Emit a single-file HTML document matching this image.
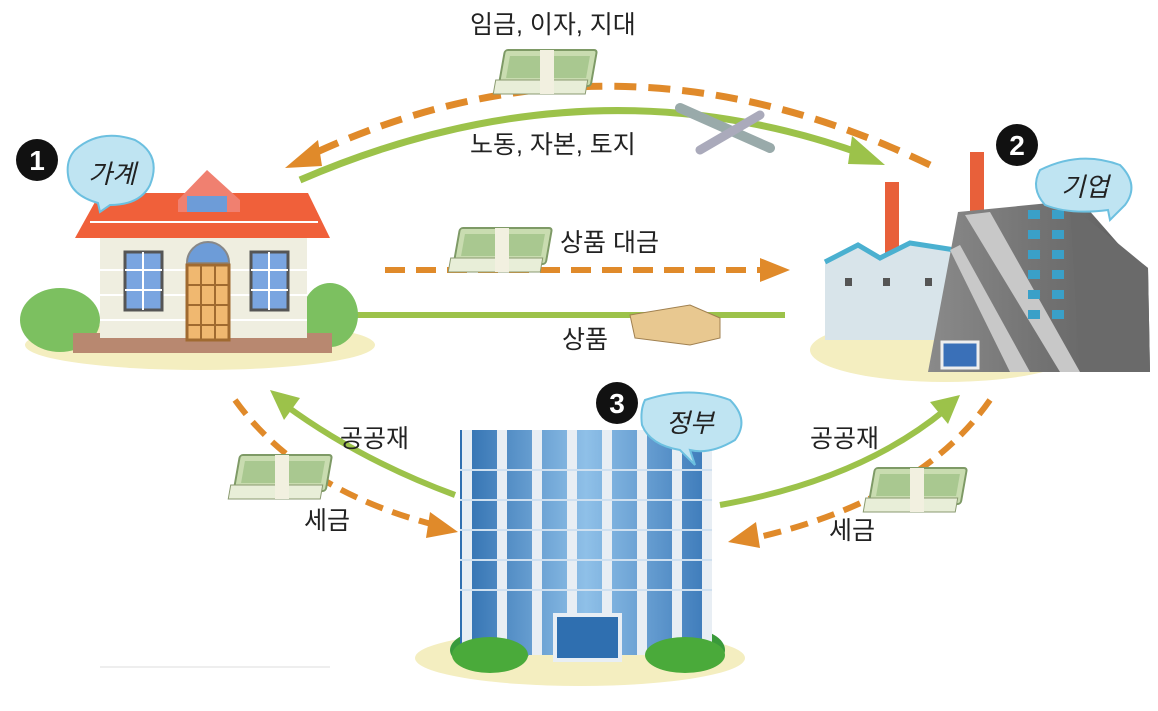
<!DOCTYPE html>
<html><head><meta charset="utf-8"><style>
html,body{margin:0;padding:0;background:#fff}
svg{display:block}
text{font-family:"Liberation Sans","Noto Sans CJK KR",sans-serif;fill:#222}
</style></head><body>
<svg width="1158" height="711" viewBox="0 0 1158 711" xmlns="http://www.w3.org/2000/svg">
<defs>
<linearGradient id="gl" x1="0" y1="0" x2="1" y2="0"><stop offset="0" stop-color="#2f6fb0"/><stop offset="0.5" stop-color="#8fc0e8"/><stop offset="1" stop-color="#3a78b8"/></linearGradient>
<linearGradient id="gm" x1="0" y1="0" x2="1" y2="0"><stop offset="0" stop-color="#8a8a8a"/><stop offset="1" stop-color="#5c5c5c"/></linearGradient>
<g id="money"><rect x="0" y="0" width="92" height="36" rx="3" fill="#c9dcb0" stroke="#7e9a66" stroke-width="2" transform="skewX(-10)"/><rect x="6" y="6" width="80" height="22" fill="#a9c890" transform="skewX(-10)"/><rect x="-4" y="30" width="92" height="14" fill="#e8eed8" stroke="#8a9a70" transform="skewX(-10)"/><rect x="35" y="0" width="14" height="44" fill="#f2f0e0"/></g>
</defs>
<ellipse cx="200" cy="345" rx="175" ry="25" fill="#f4eec0"/>
<ellipse cx="945" cy="350" rx="135" ry="32" fill="#f4eec0"/>
<ellipse cx="580" cy="658" rx="165" ry="28" fill="#f4eec0"/>
<line x1="100" y1="667" x2="330" y2="667" stroke="#ddd" stroke-width="1"/>

<path d="M930,165 Q610,10 300,160" fill="none" stroke="#e08a2a" stroke-width="7" stroke-dasharray="22,12"/>
<polygon points="285,168 318,140 322,166" fill="#e08a2a"/>
<path d="M300,180 Q590,55 865,155" fill="none" stroke="#9cc24a" stroke-width="7"/>
<polygon points="885,165 852,136 848,164" fill="#9cc24a"/>
<line x1="385" y1="270" x2="765" y2="270" stroke="#e08a2a" stroke-width="6" stroke-dasharray="20,11"/>
<polygon points="790,270 760,258 760,282" fill="#e08a2a"/>
<line x1="785" y1="315" x2="325" y2="315" stroke="#9cc24a" stroke-width="6"/>
<polygon points="298,315 328,302 328,328" fill="#9cc24a"/>
<path d="M455,495 Q360,460 285,405" fill="none" stroke="#9cc24a" stroke-width="6"/>
<polygon points="270,390 300,398 284,420" fill="#9cc24a"/>
<path d="M235,400 Q300,490 435,525" fill="none" stroke="#e08a2a" stroke-width="6" stroke-dasharray="18,10"/>
<polygon points="458,532 430,512 426,538" fill="#e08a2a"/>
<path d="M720,505 Q860,480 945,410" fill="none" stroke="#9cc24a" stroke-width="6"/>
<polygon points="960,395 930,402 948,424" fill="#9cc24a"/>
<path d="M990,400 Q920,500 755,538" fill="none" stroke="#e08a2a" stroke-width="6" stroke-dasharray="18,10"/>
<polygon points="728,542 756,522 760,548" fill="#e08a2a"/>

<g>
<ellipse cx="60" cy="320" rx="40" ry="32" fill="#7cc060"/>
<ellipse cx="330" cy="315" rx="28" ry="32" fill="#7cc060"/>
<rect x="73" y="333" width="259" height="20" fill="#b88870"/>
<rect x="100" y="238" width="207" height="100" fill="#efeee0"/>
<line x1="100" y1="270" x2="307" y2="270" stroke="#fff" stroke-width="2"/><line x1="100" y1="295" x2="307" y2="295" stroke="#fff" stroke-width="2"/><line x1="100" y1="320" x2="307" y2="320" stroke="#fff" stroke-width="2"/>
<polygon points="100,193 308,193 330,238 75,238" fill="#f0603a"/>
<line x1="90" y1="222" x2="318" y2="222" stroke="#fff" stroke-width="2"/>
<polygon points="207,170 178,200 178,212 240,212 240,200" fill="#f08070"/>
<rect x="187" y="196" width="40" height="16" fill="#6d9cd8"/>
<rect x="125" y="252" width="37" height="58" fill="#7aa5e0" stroke="#555" stroke-width="3"/>
<line x1="143" y1="252" x2="143" y2="310" stroke="#fff" stroke-width="2"/><line x1="125" y1="270" x2="162" y2="270" stroke="#fff" stroke-width="2"/><line x1="125" y1="290" x2="162" y2="290" stroke="#fff" stroke-width="2"/>
<rect x="251" y="252" width="37" height="58" fill="#7aa5e0" stroke="#555" stroke-width="3"/>
<line x1="269" y1="252" x2="269" y2="310" stroke="#fff" stroke-width="2"/><line x1="251" y1="270" x2="288" y2="270" stroke="#fff" stroke-width="2"/><line x1="251" y1="290" x2="288" y2="290" stroke="#fff" stroke-width="2"/>
<path d="M187,263 A21,21 0 0 1 229,263 Z" fill="#6d9cd8" stroke="#888" stroke-width="2"/>
<rect x="187" y="265" width="42" height="75" fill="#f0b870" stroke="#a06a30" stroke-width="3"/>
<line x1="201" y1="265" x2="201" y2="340" stroke="#a06a30" stroke-width="2"/><line x1="215" y1="265" x2="215" y2="340" stroke="#a06a30" stroke-width="2"/>
<line x1="187" y1="285" x2="229" y2="285" stroke="#a06a30" stroke-width="2"/><line x1="187" y1="305" x2="229" y2="305" stroke="#a06a30" stroke-width="2"/><line x1="187" y1="325" x2="229" y2="325" stroke="#a06a30" stroke-width="2"/>
</g>

<g>
<rect x="885" y="182" width="14" height="72" fill="#e8603a"/>
<rect x="970" y="152" width="14" height="60" fill="#e8603a"/>
<polygon points="825,262 858,245 880,258 910,243 955,250 955,340 825,340" fill="#d8e4ea"/>
<polyline points="825,262 858,245 880,258 910,243 955,250" fill="none" stroke="#4ab0d0" stroke-width="5"/>
<rect x="845" y="278" width="7" height="8" fill="#555"/><rect x="883" y="278" width="7" height="8" fill="#555"/><rect x="925" y="278" width="7" height="8" fill="#555"/>
<polygon points="958,212 1080,200 1122,248 1148,268 1150,372 928,372" fill="url(#gm)"/>
<polygon points="1070,205 1120,245 1148,268 1150,372 1080,372" fill="#6a6a6a"/>
<polygon points="965,215 990,212 1080,372 1060,372" fill="#c8c8c8"/>
<polygon points="950,250 960,245 1030,372 1010,372" fill="#c8c8c8"/>
<g fill="#3aa0c8"><rect x="1028" y="210" width="12" height="9"/><rect x="1052" y="210" width="12" height="9"/><rect x="1028" y="230" width="12" height="9"/><rect x="1052" y="230" width="12" height="9"/><rect x="1028" y="250" width="12" height="9"/><rect x="1052" y="250" width="12" height="9"/><rect x="1028" y="270" width="12" height="9"/><rect x="1052" y="270" width="12" height="9"/><rect x="1028" y="290" width="12" height="9"/><rect x="1052" y="290" width="12" height="9"/><rect x="1028" y="310" width="12" height="9"/><rect x="1052" y="310" width="12" height="9"/></g>
<rect x="942" y="342" width="36" height="26" fill="#3a70b8" stroke="#eee" stroke-width="3"/>
</g>

<g>
<ellipse cx="490" cy="650" rx="40" ry="20" fill="#3a9a3a"/>
<ellipse cx="685" cy="650" rx="40" ry="22" fill="#3a9a3a"/>
<rect x="460" y="430" width="252" height="225" fill="url(#gl)"/>
<g fill="#e8eef4"><rect x="462" y="430" width="10" height="225"/><rect x="497" y="430" width="10" height="225"/><rect x="532" y="430" width="10" height="225"/><rect x="567" y="430" width="10" height="225"/><rect x="602" y="430" width="10" height="225"/><rect x="637" y="430" width="10" height="225"/><rect x="672" y="430" width="10" height="225"/><rect x="702" y="430" width="10" height="225"/></g>
<g stroke="#cfe0f0" stroke-width="2"><line x1="460" y1="470" x2="712" y2="470"/><line x1="460" y1="500" x2="712" y2="500"/><line x1="460" y1="530" x2="712" y2="530"/><line x1="460" y1="560" x2="712" y2="560"/><line x1="460" y1="590" x2="712" y2="590"/></g>
<rect x="555" y="615" width="65" height="45" fill="#2f6fb0" stroke="#e8eef4" stroke-width="4"/>
<ellipse cx="490" cy="655" rx="38" ry="18" fill="#4aaa3a"/>
<ellipse cx="685" cy="655" rx="40" ry="18" fill="#4aaa3a"/>
</g>

<use href="#money" x="505" y="50"/>
<use href="#money" x="460" y="228"/>
<use href="#money" x="240" y="455"/>
<use href="#money" x="875" y="468"/>
<polygon points="630,315 690,305 720,318 720,338 690,345 635,338" fill="#e8c890" stroke="#a08050"/>
<path d="M680,108 L770,148" stroke="#9aa" stroke-width="10" stroke-linecap="round"/>
<path d="M700,150 L760,115" stroke="#aab" stroke-width="9" stroke-linecap="round"/>

<g>
<path d="M75,150 Q100,128 135,140 Q162,155 150,185 Q140,205 110,205 L100,212 L98,203 Q70,195 68,175 Q66,160 75,150Z" fill="#bfe4f2" stroke="#6cc0e0" stroke-width="2"/>
<text x="112" y="183" font-size="26" text-anchor="middle" font-style="italic">가계</text>
<circle cx="37" cy="160" r="21" fill="#111"/><text x="37" y="170" font-size="28" font-weight="bold" text-anchor="middle" style="fill:#fff">1</text>
<path d="M1040,170 Q1080,150 1120,165 Q1140,185 1125,205 L1110,220 L1108,210 Q1070,215 1045,205 Q1030,188 1040,170Z" fill="#bfe4f2" stroke="#6cc0e0" stroke-width="2"/>
<text x="1085" y="196" font-size="26" text-anchor="middle" font-style="italic">기업</text>
<circle cx="1017" cy="145" r="21" fill="#111"/><text x="1017" y="155" font-size="28" font-weight="bold" text-anchor="middle" style="fill:#fff">2</text>
<path d="M645,400 Q690,385 730,400 Q750,420 735,440 Q710,455 690,450 L695,465 L680,450 Q650,445 642,425 Q640,410 645,400Z" fill="#bfe4f2" stroke="#6cc0e0" stroke-width="2"/>
<text x="690" y="432" font-size="26" text-anchor="middle" font-style="italic">정부</text>
<circle cx="617" cy="403" r="21" fill="#111"/><text x="617" y="413" font-size="28" font-weight="bold" text-anchor="middle" style="fill:#fff">3</text>
</g>

<g font-size="25">
<text x="470" y="33">임금, 이자, 지대</text>
<text x="470" y="153">노동, 자본, 토지</text>
<text x="560" y="251">상품 대금</text>
<text x="562" y="348">상품</text>
<text x="340" y="447">공공재</text>
<text x="304" y="529">세금</text>
<text x="810" y="447">공공재</text>
<text x="829" y="539">세금</text>
</g>
</svg>
</body></html>
